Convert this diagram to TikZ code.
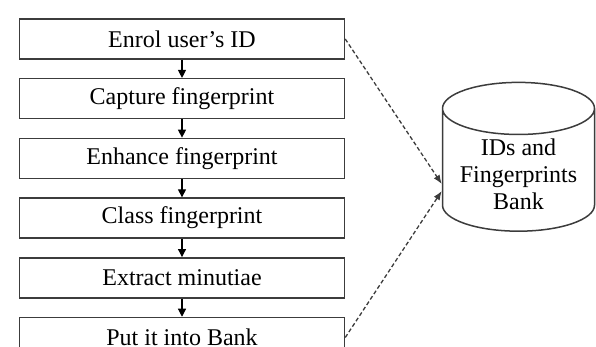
\documentclass[tikz,border=0pt]{standalone}
\usepackage{fontspec}
\setmainfont{Liberation Serif}
\usetikzlibrary{positioning, calc, shapes.geometric, arrows.meta}
\definecolor{BoxGray}{RGB}{60, 60, 60}
\tikzset{
  stepbox/.style={draw=BoxGray, line width=1.5pt, rectangle, minimum width=325pt, minimum height=40pt,
    font=\fontsize{24}{28}\selectfont},
  flow/.style={-{Triangle[length=8pt,width=8pt]}, line width=1.1pt, black},
  link/.style={-{Latex[length=9pt,width=7pt]}, dashed, dash pattern=on 4pt off 2.5pt, line width=1.3pt, BoxGray}
}

\begin{document}
\begin{tikzpicture}[x=1pt, y=1pt, node distance=18.2pt]
  \useasboundingbox (0,0) rectangle (596,347);
  \def\gapY{18.2pt}
  % steps of the enrolment
  \node[stepbox] (enrol) at (182,308) {Enrol user's ID};
  \node[stepbox, below=\gapY of enrol] (capture) {Capture fingerprint};
  \node[stepbox, below=\gapY of capture] (enhance) {Enhance fingerprint};
  \node[stepbox, below=\gapY of enhance] (classify) {Class fingerprint};
  \node[stepbox, below=\gapY of classify] (extract) {Extract minutiae};
  \node[stepbox, below=\gapY of extract] (store) {Put it into Bank};
  % the bank
  \node[draw=BoxGray, line width=1.5pt, cylinder, shape border rotate=90, aspect=0.42,
        minimum width=152pt, minimum height=126pt, align=center,
        font=\fontsize{24}{27}\selectfont] (bank) at (518.5,173)
        {IDs and\\Fingerprints\\Bank};
  \foreach \a/\b in {enrol/capture, capture/enhance, enhance/classify, classify/extract, extract/store}
    \draw[flow] (\a) -- (\b);
  \draw[link] (enrol.east) -- ($(bank.west)+(0,-10)$);
  \draw[link] (store.east) -- ($(bank.west)+(0,-17)$);
\end{tikzpicture}
\end{document}
